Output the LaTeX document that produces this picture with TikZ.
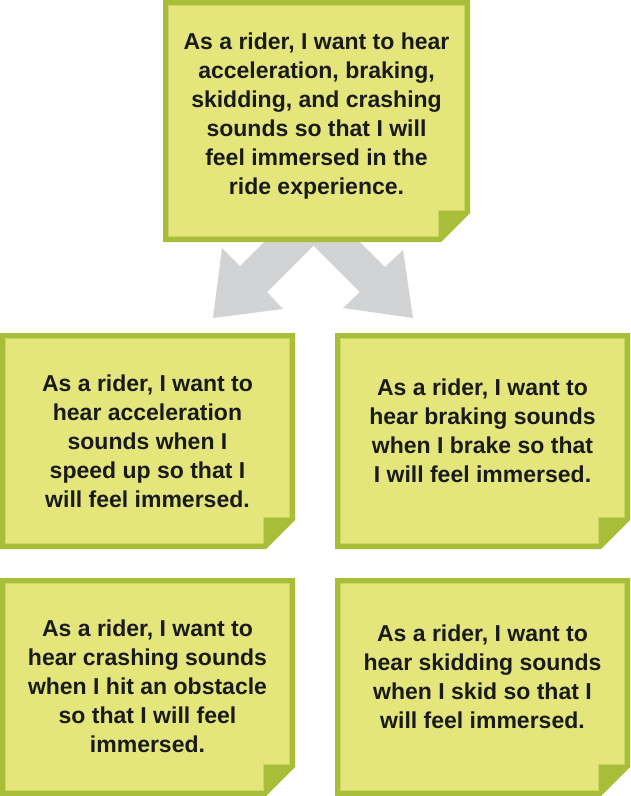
\documentclass[tikz,border=0pt]{standalone}
\usepackage{fontspec}
\setmainfont{Liberation Sans}
\definecolor{notebdc}{HTML}{A8BE38}
\definecolor{notefillc}{HTML}{E4E67C}
\definecolor{notelinec}{HTML}{CBD65E}
\definecolor{arrowc}{HTML}{D1D3D4}
\definecolor{textc}{HTML}{1A1A1A}
\tikzset{
  notebd/.style={fill=notebdc},
  notefill/.style={fill=notefillc, draw=notelinec, line width=1.2pt},
  notetext/.style={align=center, text=textc, font=\bfseries\fontsize{23}{29}\selectfont, inner sep=0pt},
  bigarrow/.style={fill=arrowc}
}
% #1 name, #2 x0, #3 y0, #4 width, #5 height, #6 vertical text shift, #7 text
\newcommand\drawnote[7]{%
  \begin{scope}[shift={(#2,#3)}]
    \fill[notebd] (0,0) -- (#4,0) -- (#4,#5-29) -- (#4-29,#5) -- (0,#5) -- cycle;
    \path[notefill] (5.5,5.5) -- (#4-5.5,5.5) -- (#4-5.5,#5-31.5) -- (#4-31.5,#5-31.5) -- (#4-31.5,#5-5.5) -- (5.5,#5-5.5) -- cycle;
    \node[notetext] (#1) at (#4/2,#5/2+#6) {#7};
  \end{scope}}
\begin{document}
\begin{tikzpicture}[x=1pt,y=-1pt]
\useasboundingbox (0,0) rectangle (630,796);
% arrows
\path[bigarrow] (276,230) -- (240,266) -- (222,248) -- (213,318) -- (283,309) -- (267,292) -- (329,230) -- cycle;
\path[bigarrow] (298,230) -- (360,292) -- (343,308) -- (413,318) -- (403,250) -- (385,267) -- (348,230) -- cycle;
% notes
\drawnote{top}{163}{0}{307}{242}{-5}{As a rider, I want to hear\\acceleration, braking,\\skidding, and crashing\\sounds so that I will\\feel immersed in the\\ride experience.}
\drawnote{ml}{0}{333}{295}{216}{0}{As a rider, I want to\\hear acceleration\\sounds when I\\speed up so that I\\will feel immersed.}
\drawnote{mr}{335}{333}{295}{216}{-10}{As a rider, I want to\\hear braking sounds\\when I brake so that\\I will feel immersed.}
\drawnote{bl}{0}{578}{295}{218}{-1}{As a rider, I want to\\hear crashing sounds\\when I hit an obstacle\\so that I will feel\\immersed.}
\drawnote{br}{335}{578}{295}{218}{-10}{As a rider, I want to\\hear skidding sounds\\when I skid so that I\\will feel immersed.}
\end{tikzpicture}
\end{document}
